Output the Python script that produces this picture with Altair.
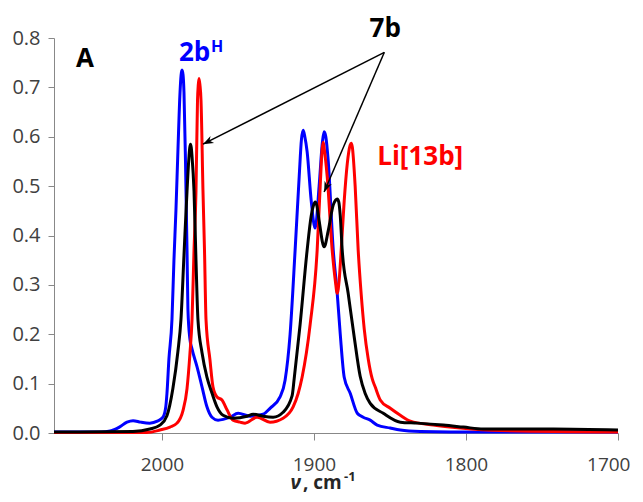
import altair as alt
import pandas as pd

# ---------------- data ----------------
blue_wn = [2071, 2040, 2034, 2028, 2023, 2019, 2014, 2008, 2003, 1999.3, 1997.6, 1996.7, 1995.4, 1993.4,
           1992.1, 1990.8, 1989.5, 1988.1, 1987.4, 1986.8, 1986.1, 1985.5, 1984.5, 1983.5, 1982.9, 1981.6,
           1980.2, 1976.9, 1973.6, 1970.4, 1967.1, 1963.1, 1955.2, 1949.9, 1942.0, 1933.5, 1928.9, 1922.3,
           1919.0, 1915.7, 1912.4, 1909.7, 1908.2, 1907.1, 1906.0, 1904.5, 1901.8, 1899.2, 1896.6, 1894.4,
           1893.3, 1892.2, 1890.6, 1887.3, 1884.7, 1882.7, 1880.1, 1876.1, 1871.5, 1867.6, 1863.0, 1858.4,
           1849.8, 1843.2, 1830, 1810, 1700]
blue_abs = [0.002, 0.002, 0.004, 0.012, 0.022, 0.025, 0.022, 0.020, 0.024, 0.032, 0.05, 0.08, 0.15, 0.23,
            0.35, 0.45, 0.57, 0.69, 0.725, 0.735, 0.725, 0.69, 0.55, 0.37, 0.25, 0.19,
            0.17, 0.134, 0.093, 0.053, 0.032, 0.026, 0.032, 0.040, 0.034, 0.038, 0.05, 0.073,
            0.107, 0.2, 0.37, 0.52, 0.595, 0.613, 0.6, 0.57, 0.47, 0.415, 0.50, 0.59,
            0.61, 0.6, 0.55, 0.37, 0.283, 0.2, 0.113, 0.08, 0.04, 0.032, 0.026, 0.016,
            0.01, 0.006, 0.003, 0.002, 0.002]

red_wn = [2071, 2010, 2001.3, 1994.7, 1990.1, 1986.2, 1983.5, 1981.6, 1980.2, 1978.9,
          1977.6, 1976.6, 1976.1, 1975.6, 1975.0, 1974.3, 1973.0, 1972.0, 1971.0, 1968.4,
          1966.4, 1963.8, 1960.5, 1957.2, 1953.2, 1948.6, 1945.3, 1937.4, 1928.9, 1920.3,
          1913.7, 1910.4, 1907.8, 1902.5, 1897.9, 1895.9, 1894.6, 1893.9, 1893.2, 1891.3,
          1888.0, 1886.0, 1884.7, 1883.4, 1882.1, 1880.1, 1878.1, 1876.2, 1875.5, 1874.8,
          1872.9, 1870.9, 1868.9, 1866.9, 1864.3, 1861.7, 1859.7, 1856.4, 1849.8, 1843.2,
          1836.6, 1821.5, 1803.7, 1777.3, 1700]
red_abs = [0.001, 0.001, 0.006, 0.012, 0.02, 0.045, 0.09, 0.16, 0.23, 0.37,
           0.49, 0.674, 0.705, 0.718, 0.705, 0.674, 0.49, 0.37, 0.229, 0.148,
           0.093, 0.073, 0.067, 0.047, 0.026, 0.022, 0.02, 0.032, 0.022, 0.03,
           0.053, 0.08, 0.113, 0.22, 0.37, 0.5, 0.575, 0.589, 0.575, 0.52,
           0.37, 0.31, 0.283, 0.31, 0.37, 0.47, 0.545, 0.583, 0.587, 0.58,
           0.50, 0.37, 0.28, 0.21, 0.15, 0.11, 0.093, 0.067, 0.05, 0.036,
           0.024, 0.016, 0.01, 0.005, 0.002]

black_wn = [2071, 2019.1, 2007.9, 2001.3, 1996.7, 1992.8, 1989.5, 1987.5, 1985.5, 1983.5,
            1982.2, 1981.7, 1981.2, 1980.7, 1980.2, 1978.9, 1977.6, 1976.3, 1973.6, 1970.4,
            1967.1, 1963.8, 1959.8, 1953.2, 1944.0, 1940.0, 1933.5, 1926.9, 1920.3, 1914.4,
            1913.0, 1909.1, 1904.5, 1901.8, 1900.2, 1899.2, 1898.2, 1896.6, 1893.3, 1890.6,
            1887.3, 1885.7, 1884.7, 1883.7, 1882.7, 1881.4, 1877.5, 1873.5, 1869.6, 1866.3,
            1863.0, 1854.4, 1843.2, 1832.0, 1814.9, 1801.7, 1788.5, 1742.4, 1700]
black_abs = [0.002, 0.003, 0.008, 0.016, 0.035, 0.09, 0.165, 0.229, 0.36, 0.49,
             0.56, 0.578, 0.585, 0.578, 0.56, 0.49, 0.35, 0.229, 0.162, 0.113,
             0.081, 0.053, 0.036, 0.03, 0.034, 0.038, 0.034, 0.032, 0.042, 0.075,
             0.11, 0.22, 0.37, 0.44, 0.462, 0.468, 0.462, 0.43, 0.377, 0.41,
             0.462, 0.472, 0.474, 0.468, 0.44, 0.37, 0.283, 0.194, 0.115, 0.08,
             0.06, 0.04, 0.022, 0.02, 0.016, 0.012, 0.008, 0.008, 0.006]

series_names = ["2bH", "Li[13b]", "7b"]
series_colors = ["#0000FF", "#FF0000", "#000000"]

x_ticks = [2000, 1900, 1800, 1700]
y_ticks = [0.0, 0.1, 0.2, 0.3, 0.4, 0.5, 0.6, 0.7, 0.8]

# annotation labels (data coordinates)
label_text = ["A", "2b", "7b", "Li[13b]"]
label_wn = [2050.7, 1988.8, 1853.1, 1858.4]
label_abs = [0.741, 0.753, 0.802, 0.5425]
label_color = ["#000000", "#0000FF", "#000000", "#FF0000"]
label_align = ["center", "left", "center", "left"]
sup_text = ["H"]
sup_wn = [1967.7]
sup_abs = [0.771]

# arrows: common start, two tips
arrow_start_wn, arrow_start_abs = 1853.7, 0.771
arrow_tip_wn = [1973.0, 1893.3]
arrow_tip_abs = [0.585, 0.488]
arrow_angle = [243, 203]

FONT = "Open Sans"

# ---------------- build ----------------
rows = []
for name, wn, ab in [("2bH", blue_wn, blue_abs), ("Li[13b]", red_wn, red_abs), ("7b", black_wn, black_abs)]:
    for i, (w, a) in enumerate(zip(wn, ab)):
        rows.append({"series": name, "wn": w, "abs": a, "ord": i})
spec_df = pd.DataFrame(rows)

x_scale = alt.Scale(domain=[1700, 2071], reverse=True, nice=False, zero=False)
y_scale = alt.Scale(domain=[0, 0.8], nice=False)

lines = alt.Chart(spec_df).mark_line(strokeWidth=3, interpolate="monotone").encode(
    x=alt.X("wn:Q", scale=x_scale,
            axis=alt.Axis(values=x_ticks, format="d", title=None, grid=False,
                          tickSize=7, labelPadding=15, labelFontSize=19, labelFont=FONT,
                          labelColor="#404040", domainColor="#888888", tickColor="#888888",
                          labelFlush=True, labelFlushOffset=12)),
    y=alt.Y("abs:Q", scale=y_scale,
            axis=alt.Axis(values=y_ticks, format=".1f", title=None, grid=False,
                          tickSize=6, labelPadding=8, labelFontSize=20, labelFont=FONT,
                          labelColor="#404040", domainColor="#888888", tickColor="#888888")),
    color=alt.Color("series:N", scale=alt.Scale(domain=series_names, range=series_colors), legend=None),
    order=alt.Order("ord:Q"),
)

arrow_df = pd.DataFrame({
    "wn": [arrow_start_wn] * 2, "abs": [arrow_start_abs] * 2,
    "wn2": arrow_tip_wn, "abs2": arrow_tip_abs, "ang": arrow_angle,
})
arrow_lines = alt.Chart(arrow_df).mark_rule(color="black", strokeWidth=1.5).encode(
    x="wn:Q", y="abs:Q", x2="wn2:Q", y2="abs2:Q")
head_df = pd.DataFrame({"wn": arrow_tip_wn, "abs": arrow_tip_abs, "ang": arrow_angle})
arrow_heads = alt.Chart(head_df).mark_point(
    shape="M0,0 L-0.75,2 L0,1.4 L0.75,2 Z", filled=True, color="black", opacity=1, size=110,
).encode(x="wn:Q", y="abs:Q", angle=alt.Angle("ang:Q", scale=None))

lab_df = pd.DataFrame({"t": label_text, "wn": label_wn, "abs": label_abs,
                       "c": label_color, "al": label_align})
labels_left = alt.Chart(lab_df[lab_df["al"] == "left"]).mark_text(
    align="left", baseline="alphabetic", font=FONT, fontWeight="bold", fontSize=26,
).encode(x="wn:Q", y="abs:Q", text="t:N", color=alt.Color("c:N", scale=None))
labels_center = alt.Chart(lab_df[lab_df["al"] == "center"]).mark_text(
    align="center", baseline="alphabetic", font=FONT, fontWeight="bold", fontSize=26,
).encode(x="wn:Q", y="abs:Q", text="t:N", color=alt.Color("c:N", scale=None))
sup = alt.Chart(pd.DataFrame({"t": sup_text, "wn": sup_wn, "abs": sup_abs})).mark_text(
    align="left", baseline="alphabetic", font=FONT, fontWeight="bold", fontSize=16, color="#0000FF",
).encode(x="wn:Q", y="abs:Q", text="t:N")

# x-axis title: ν (bold italic), ", cm" (bold), "-1" superscript
t1 = alt.Chart(pd.DataFrame({"t": ["ν"]})).mark_text(
    align="right", baseline="alphabetic", font=FONT, fontWeight="bold", fontStyle="italic",
    fontSize=19, color="#262626").encode(x=alt.value(247), y=alt.value(451), text="t:N")
t2 = alt.Chart(pd.DataFrame({"t": [", cm"]})).mark_text(
    align="left", baseline="alphabetic", font=FONT, fontWeight="bold",
    fontSize=19, color="#262626").encode(x=alt.value(249), y=alt.value(451), text="t:N")
t3 = alt.Chart(pd.DataFrame({"t": ["-1"]})).mark_text(
    align="left", baseline="alphabetic", font=FONT, fontWeight="bold",
    fontSize=13, color="#262626").encode(x=alt.value(290), y=alt.value(443), text="t:N")

chart = alt.layer(lines, arrow_lines, arrow_heads, labels_left, labels_center, sup, t1, t2, t3).properties(
    width=564, height=395,
    autosize=alt.AutoSizeParams(type="none"),
    padding={"left": 46, "top": 30, "right": 17, "bottom": 61},
    background="white",
).configure_view(stroke=None)

chart.save("out.html", embed_options={"renderer": "svg", "actions": False})
